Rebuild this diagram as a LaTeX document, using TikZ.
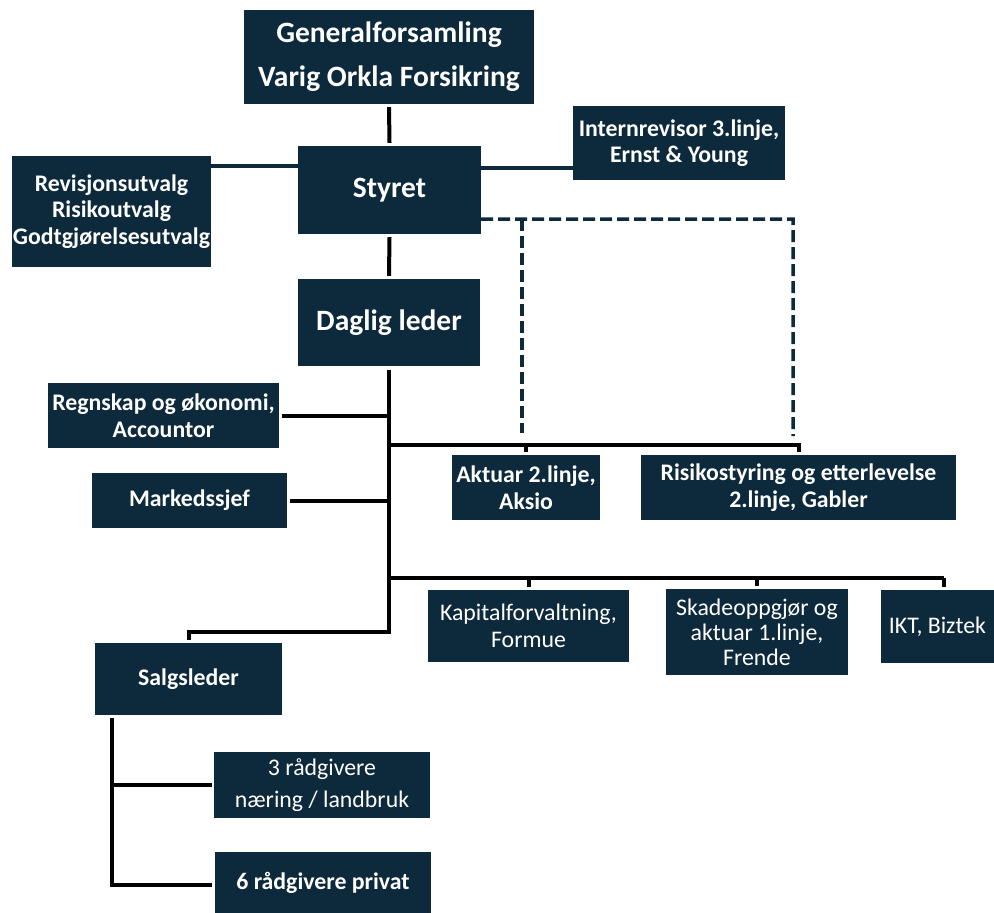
\documentclass[tikz,border=0pt]{standalone}
\usepackage{fontspec}
\setmainfont{Carlito}
\usetikzlibrary{calc}
\definecolor{navy}{RGB}{13,41,60}
\begin{document}
\begin{tikzpicture}[x=1bp,y=-1bp,
  box/.style={fill=navy,text=white,inner sep=0pt,align=center},
  big/.style={font=\bfseries\fontsize{29.5bp}{44bp}\selectfont},
  bigone/.style={font=\bfseries\fontsize{29.5bp}{32bp}\selectfont},
  sb/.style={font=\bfseries\fontsize{23.8bp}{26.5bp}\selectfont},
  sr/.style={font=\fontsize{23.8bp}{26.5bp}\selectfont},
  srwide/.style={font=\fontsize{23.8bp}{32bp}\selectfont},
  blk/.style={draw=black,line width=4bp},
  nvy/.style={draw=navy,line width=3.5bp},
  dsh/.style={draw=navy,line width=3.5bp,dash pattern=on 12bp off 5bp}]
\useasboundingbox (0,0) rectangle (994,913);
% boxes
\node[box,big,minimum width=290bp,minimum height=94bp] (gf) at (389,57) {Generalforsamling\\Varig Orkla Forsikring};
\node[box,bigone,minimum width=183bp,minimum height=88bp] (styret) at (389.5,190) {Styret};
\node[box,sb,minimum width=199bp,minimum height=111bp] (rev) at (111.5,211.5) {Revisjonsutvalg\\Risikoutvalg\\Godtgjørelsesutvalg};
\node[box,sb,minimum width=212bp,minimum height=74bp] (intern) at (679,143) {Internrevisor 3.linje,\\Ernst \& Young};
\node[box,bigone,minimum width=182bp,minimum height=87bp] (daglig) at (389,322.5) {Daglig leder};
\node[box,sb,minimum width=231bp,minimum height=65bp] (regn) at (163.5,415.5) {Regnskap og økonomi,\\Accountor};
\node[box,sb,minimum width=195bp,minimum height=55bp] (marked) at (189.5,500.5) {Markedssjef};
\node[box,sb,minimum width=148bp,minimum height=65bp] (aktuar) at (526,487.5) {Aktuar 2.linje,\\Aksio};
\node[box,sb,minimum width=315bp,minimum height=65bp] (risiko) at (798.5,487.5) {Risikostyring og etterlevelse\\2.linje, Gabler};
\node[box,sr,minimum width=201bp,minimum height=72bp] (kapital) at (528.5,626) {Kapitalforvaltning,\\Formue};
\node[box,sr,minimum width=182bp,minimum height=86bp,font=\fontsize{23.8bp}{25bp}\selectfont] (skade) at (757,632) {Skadeoppgjør og\\aktuar 1.linje,\\Frende};
\node[box,sr,minimum width=113bp,minimum height=73bp] (ikt) at (937.5,626.5) {IKT, Biztek};
\node[box,sb,minimum width=187bp,minimum height=72bp] (salg) at (188.5,679) {Salgsleder};
\node[box,srwide,minimum width=216bp,minimum height=66bp] (raad3) at (322,785) {3 rådgivere\\næring / landbruk};
\node[box,sb,minimum width=216bp,minimum height=61bp] (raad6) at (323,882.5) {6 rådgivere privat};
% top connectors
\draw[blk] ([yshift=-3bp]gf.south) -- ([yshift=3bp]styret.north);
\draw[blk] ([yshift=-3bp]styret.south) -- ([yshift=3bp]daglig.north);
\coordinate (sl) at ([yshift=-20bp]styret.north west);
\draw[nvy] (sl) -- (sl -| rev.east);
\coordinate (sr) at ([yshift=-22bp]styret.north east);
\draw[nvy] (sr) -- (sr -| intern.west);
% dashed lines
\coordinate (d0) at ([yshift=15bp]styret.south east);
\coordinate (d1) at (522,219);
\coordinate (d2) at (793,219);
\draw[dsh] (d0) -- (d2) -- (793,436);
\draw[dsh] (d1) -- (522,433);
% trunk
\coordinate (t0) at ([yshift=-4bp]daglig.south);
\coordinate (t1) at (389,632);
\draw[blk] (t0) -- (t1) -| ([yshift=3bp]salg.north);
\draw[blk] ([xshift=3bp]regn.east) -- (regn.east -| t0);
\draw[blk] ([xshift=3bp]marked.east) -- (marked.east -| t0);
% second-line branch
\coordinate (h1) at (389,445);
\draw[blk] (h1) -| ([yshift=3bp]risiko.north);
\draw[blk] (aktuar.north |- h1) -- ([yshift=3bp]aktuar.north);
% first-line branch
\coordinate (h2) at (389,578);
\coordinate (h2e) at (944,578);
\draw[blk] (h2) -- (h2e);
\draw[blk] (h2e) -- ([yshift=3bp]h2e |- ikt.north);
\draw[blk] (kapital.north |- h2) -- ([yshift=3bp]kapital.north);
\draw[blk] (skade.north |- h2) -- ([yshift=3bp]skade.north);
% sales
\coordinate (sv) at ([xshift=17bp,yshift=-3bp]salg.south west);
\draw[blk] (sv) |- ([xshift=-3bp]raad6.west |- 0,885);
\draw[blk] (sv |- raad3.west) -- ([xshift=-2bp]raad3.west);
\end{tikzpicture}
\end{document}
